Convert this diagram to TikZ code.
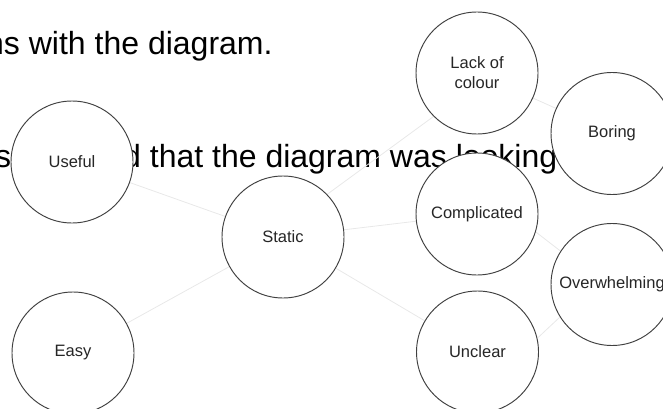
\documentclass[tikz,border=0pt]{standalone}
\usepackage{fontspec}
\setmainfont{Liberation Sans}
\pgfdeclarelayer{txt}
\pgfdeclarelayer{bg}
\pgfsetlayers{txt,bg,main}
\tikzset{
  bubble/.style={circle, draw=black!75, fill=white, line width=0.95pt,
    minimum size=122pt, inner sep=0pt, align=center, text=black!85,
    font=\fontsize{16.5}{20}\selectfont},
  conn/.style={draw=black!9, line width=0.8pt},
  bodytext/.style={anchor=base west, inner sep=0pt, text=black,
    font=\fontsize{32}{38}\selectfont}
}
\begin{document}
\begin{tikzpicture}[x=1pt, y=-1pt]
\useasboundingbox (0,0) rectangle (663,409);
\clip (0,0) rectangle (663,409);
% circles
\node[bubble] (lack) at (477,73) {Lack of\\colour};
\node[bubble] (boring) at (612,133.5) {Boring};
\node[bubble] (useful) at (72,162) {Useful};
\node[bubble] (static) at (283,237) {Static};
\node[bubble] (comp) at (477,214) {Complicated};
\node[bubble] (over) at (612,284.5) {Overwhelming};
\node[bubble] (easy) at (73,353) {Easy};
\node[bubble] (unclear) at (477.5,352) {Unclear};
% connectors
\begin{pgfonlayer}{bg}
\draw[conn] (useful) -- (static);
\draw[conn] (static.44) -- (lack.225);
\draw[conn] (static) -- (comp);
\draw[conn] (static) -- (easy);
\draw[conn] (static) -- (unclear);
\draw[conn] (lack) -- (boring);
\draw[conn] (comp.-17) -- (over.147);
\draw[conn] (unclear.13) -- (over.212);
\end{pgfonlayer}
% background document text
\begin{pgfonlayer}{txt}
\node[bodytext] (line2) at (-14,55) {ns with the diagram.};
\node[bodytext] (line3a) at (-5,167) {s};
\node[bodytext] (line3b) at (123,167) {d that the diagram was looking};
\end{pgfonlayer}
\end{tikzpicture}
\end{document}
